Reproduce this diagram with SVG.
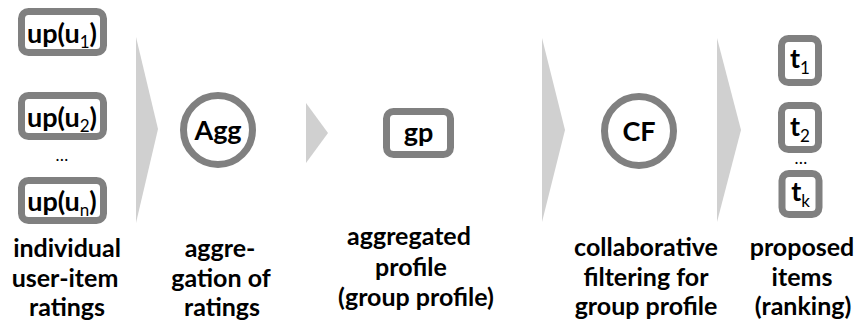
<svg xmlns="http://www.w3.org/2000/svg" width="861" height="327" viewBox="0 0 861 327">
  <style>
    .box { fill: #ffffff; stroke: #808080; stroke-width: 7; }
    .t { font-family: Lato, "Liberation Sans", sans-serif; font-weight: bold; fill: #000000; }
    .in { font-size: 27px; text-anchor: middle; }
    .lbl { font-size: 25px; text-anchor: middle; }
    .sub { font-size: 17px; font-weight: normal; }
    .dots { font-family: Lato, "Liberation Sans", sans-serif; font-size: 17px; text-anchor: middle; fill: #000000; }
    .chev { fill: #d0d0d0; }
  </style>

  <!-- flow arrows between the stages -->
  <g id="connectors">
    <polygon class="chev" points="136,37 158,129 136,223"/>
    <polygon class="chev" points="306,103 328,133 306,163"/>
    <polygon class="chev" points="542,38 565,130 542,222"/>
    <polygon class="chev" points="717,38 741,130 717,222"/>
  </g>

  <!-- stage 1: individual user profiles -->
  <g id="up1">
    <rect class="box" x="21.5" y="11.5" width="82" height="41" rx="7"/>
    <text class="t in" x="62" y="43">up(u<tspan class="sub" dy="5">1</tspan><tspan dy="-5">)</tspan></text>
  </g>
  <g id="up2">
    <rect class="box" x="21.5" y="95.5" width="82" height="41" rx="7"/>
    <text class="t in" x="62" y="127">up(u<tspan class="sub" dy="5">2</tspan><tspan dy="-5">)</tspan></text>
  </g>
  <text class="dots" x="62" y="161">…</text>
  <g id="upn">
    <rect class="box" x="21.5" y="180.5" width="82" height="40" rx="7"/>
    <text class="t in" x="62" y="211">up(u<tspan class="sub" dy="5">n</tspan><tspan dy="-5">)</tspan></text>
  </g>
  <g id="label-ratings">
    <text class="t lbl" x="67" y="257">individual</text>
    <text class="t lbl" x="65" y="287">user-item</text>
    <text class="t lbl" x="67" y="316">ratings</text>
  </g>

  <!-- stage 2: aggregation -->
  <g id="agg">
    <circle class="box" cx="218" cy="130" r="34.5"/>
    <text class="t in" x="218" y="140">Agg</text>
  </g>
  <g id="label-agg">
    <text class="t lbl" x="220" y="257">aggre-</text>
    <text class="t lbl" x="221" y="287">gation of</text>
    <text class="t lbl" x="222" y="316">ratings</text>
  </g>

  <!-- stage 3: group profile -->
  <g id="gp">
    <rect class="box" x="386.5" y="111.5" width="64" height="43" rx="7"/>
    <text class="t in" x="418.5" y="142">gp</text>
  </g>
  <g id="label-gp">
    <text class="t lbl" x="409" y="245">aggregated</text>
    <text class="t lbl" x="411" y="276">profile</text>
    <text class="t lbl" x="416" y="306">(group profile)</text>
  </g>

  <!-- stage 4: collaborative filtering -->
  <g id="cf">
    <circle class="box" cx="639" cy="131" r="34.5"/>
    <text class="t in" x="639" y="141">CF</text>
  </g>
  <g id="label-cf">
    <text class="t lbl" x="646" y="256">collaborative</text>
    <text class="t lbl" x="646" y="286">filtering for</text>
    <text class="t lbl" x="646" y="315">group profile</text>
  </g>

  <!-- stage 5: ranked items -->
  <g id="t1">
    <rect class="box" x="781.5" y="38.5" width="37" height="44" rx="7"/>
    <text class="t in" x="800" y="68">t<tspan class="sub" dy="6">1</tspan></text>
  </g>
  <g id="t2">
    <rect class="box" x="781.5" y="105.5" width="37" height="44" rx="7"/>
    <text class="t in" x="800" y="136">t<tspan class="sub" dy="6">2</tspan></text>
  </g>
  <text class="dots" x="801" y="164">…</text>
  <g id="tk">
    <rect class="box" x="782" y="173.5" width="37" height="41" rx="7"/>
    <text class="t in" x="800.5" y="201">t<tspan class="sub" dy="6">k</tspan></text>
  </g>
  <g id="label-items">
    <text class="t lbl" x="802" y="256">proposed</text>
    <text class="t lbl" x="802" y="286">items</text>
    <text class="t lbl" x="803" y="315">(ranking)</text>
  </g>
</svg>
